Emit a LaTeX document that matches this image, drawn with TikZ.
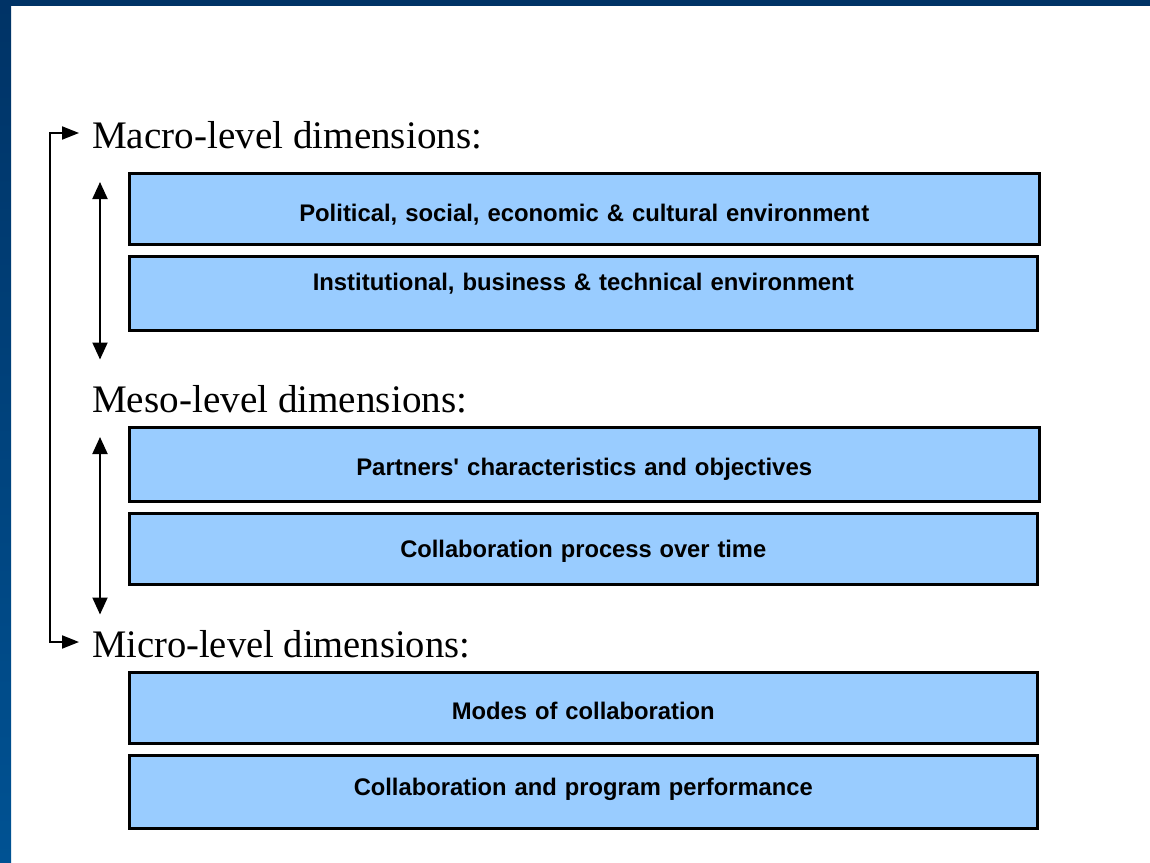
\documentclass[tikz,border=0pt]{standalone}
\usepackage{fontspec}
\setmainfont{Liberation Serif}
\newfontfamily\boxfont{Liberation Sans}
\usetikzlibrary{arrows.meta,calc}
\definecolor{frameA}{RGB}{0,51,102}
\definecolor{frameB}{RGB}{0,82,147}
\definecolor{boxblue}{RGB}{153,204,255}
\newlength\fitwd
\newcommand\fitto[2]{\settowidth\fitwd{#2}\pgfmathsetmacro\fitratio{#1/\fitwd}\scalebox{\fitratio}[1]{#2}}
\tikzset{
  dimbox/.style={draw=black, line width=2.5pt, fill=boxblue, inner sep=0pt,
    text width=#1, align=center, anchor=north west,
    font=\boxfont\bfseries\fontsize{24}{24}\selectfont},
  levellab/.style={inner sep=0pt, anchor=base west, font=\fontsize{39}{39}\selectfont},
  dblarrow/.style={line width=2pt, {Triangle[length=17pt,width=15pt]}-{Triangle[length=17pt,width=15pt]}},
  bracketarrow/.style={line width=2pt, {Triangle[length=17pt,width=13pt]}-{Triangle[length=17pt,width=13pt]}}
}
\begin{document}
\begin{tikzpicture}[x=1pt,y=-1pt]
\useasboundingbox (0,0) rectangle (1150,862);
\fill[white] (0,0) rectangle (1150,862);
\shade[top color=frameA, bottom color=frameB] (0,0) rectangle (11,862);
\fill[frameA] (0,0) rectangle (1150,6);

% level labels
\node[levellab] (mac) at (92,148) {\fitto{390pt}{Macro-level dimensions:}};
\node[levellab] (mes) at (92,412) {\fitto{375pt}{Meso-level dimensions:}};
\node[levellab] (mic) at (92,657) {\fitto{378pt}{Micro-level dimensions:}};

% boxes
\node[dimbox=910pt, text height=48pt, text depth=23pt] (b1) at (128,172)
  {\fitto{570pt}{Political, social, economic \& cultural environment}};
\node[dimbox=908pt, text height=34pt, text depth=40pt] (b2) at (128,255)
  {\fitto{541pt}{Institutional, business \& technical environment}};
\node[dimbox=910pt, text height=48pt, text depth=26pt] (b3) at (128,426)
  {\fitto{456pt}{Partners' characteristics and objectives}};
\node[dimbox=908pt, text height=44pt, text depth=27pt] (b4) at (128,512)
  {\fitto{366pt}{Collaboration process over time}};
\node[dimbox=908pt, text height=47pt, text depth=24pt] (b5) at (128,671)
  {\fitto{263pt}{Modes of collaboration}};
\node[dimbox=908pt, text height=40pt, text depth=33pt] (b6) at (128,754)
  {\fitto{459pt}{Collaboration and program performance}};

% arrows
\coordinate (corner) at (49.5,133);
\draw[bracketarrow] ($(mic.base west)+(-13,-15)$) -| (corner) -- ($(mac.base west)+(-13,-15)$);
\draw[dblarrow] ($(b1.north west)+(-28,10)$) -- ($(b2.south west)+(-28,28)$);
\draw[dblarrow] ($(b3.north west)+(-28,11)$) -- ($(b4.south west)+(-28,29)$);
\end{tikzpicture}
\end{document}
